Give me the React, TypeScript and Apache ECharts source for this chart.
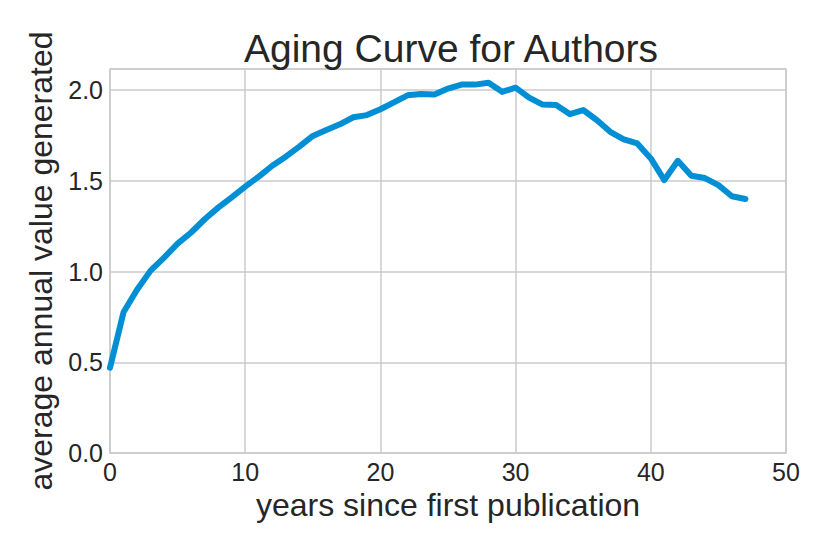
import React, { useEffect, useRef } from "react";
import * as echarts from "echarts";

const years = [
  0, 1, 2, 3, 4, 5, 6, 7, 8, 9, 10, 11, 12, 13, 14, 15, 16, 17, 18, 19, 20, 21, 22, 23,
  24, 25, 26, 27, 28, 29, 30, 31, 32, 33, 34, 35, 36, 37, 38, 39, 40, 41, 42, 43, 44, 45, 46, 47,
];
const values = [
  0.47, 0.776, 0.9, 1.005, 1.077, 1.154, 1.215, 1.288, 1.352, 1.409, 1.468, 1.523, 1.583,
  1.633, 1.688, 1.747, 1.78, 1.811, 1.85, 1.862, 1.894, 1.932, 1.971, 1.978, 1.976, 2.008,
  2.03, 2.03, 2.04, 1.99, 2.013, 1.958, 1.92, 1.917, 1.868, 1.89, 1.835, 1.77, 1.728, 1.706,
  1.623, 1.504, 1.61, 1.528, 1.515, 1.476, 1.415, 1.4,
];

const titleText = "Aging Curve for Authors";
const xLabel = "years since first publication";
const yLabel = "average annual value generated";

export default function App() {
  const ref = useRef<HTMLDivElement>(null);
  useEffect(() => {
    if (!ref.current) return;
    const chart = echarts.init(ref.current, undefined, { renderer: "svg" });
    const font = "Liberation Sans, Arial, Helvetica, sans-serif";
    const textColor = "#262626";
    chart.setOption({
      animation: false,
      backgroundColor: "#ffffff",
      title: {
        text: titleText,
        left: 446,
        textAlign: "center",
        top: 24,
        textStyle: { fontFamily: font, fontSize: 39, fontWeight: "normal", color: textColor },
      },
      grid: {
        left: 110,
        right: 44,
        top: 69,
        bottom: 101,
        show: true,
        borderColor: "#cbcbcb",
        borderWidth: 1.5,
        backgroundColor: "#ffffff",
      },
      xAxis: {
        type: "value",
        min: 0,
        max: 50,
        interval: 10,
        name: xLabel,
        nameLocation: "middle",
        nameGap: 33,
        nameTextStyle: { fontFamily: font, fontSize: 32, color: textColor },
        axisLine: { show: false },
        axisTick: { show: false },
        axisLabel: { fontFamily: font, fontSize: 25, color: textColor, margin: 6 },
        splitLine: { show: true, lineStyle: { color: "#cbcbcb", width: 1.5 } },
      },
      yAxis: {
        type: "value",
        min: 0,
        max: 2.116,
        interval: 0.5,
        name: yLabel,
        nameLocation: "middle",
        nameGap: 53,
        nameTextStyle: { fontFamily: font, fontSize: 32, color: textColor },
        axisLine: { show: false },
        axisTick: { show: false },
        axisLabel: {
          fontFamily: font,
          fontSize: 25,
          color: textColor,
          margin: 7,
          showMaxLabel: false,
          formatter: (v: number) => v.toFixed(1),
        },
        splitLine: { show: true, lineStyle: { color: "#cbcbcb", width: 1.5 } },
      },
      series: [
        {
          type: "line",
          data: years.map((y, i) => [y, values[i]]),
          showSymbol: false,
          symbol: "none",
          lineStyle: { color: "#008fd5", width: 6, cap: "round", join: "round" },
        },
      ],
    });
    return () => chart.dispose();
  }, []);
  return <div ref={ref} style={{ width: 830, height: 554, position: "absolute", left: 0, top: 0 }} />;
}
